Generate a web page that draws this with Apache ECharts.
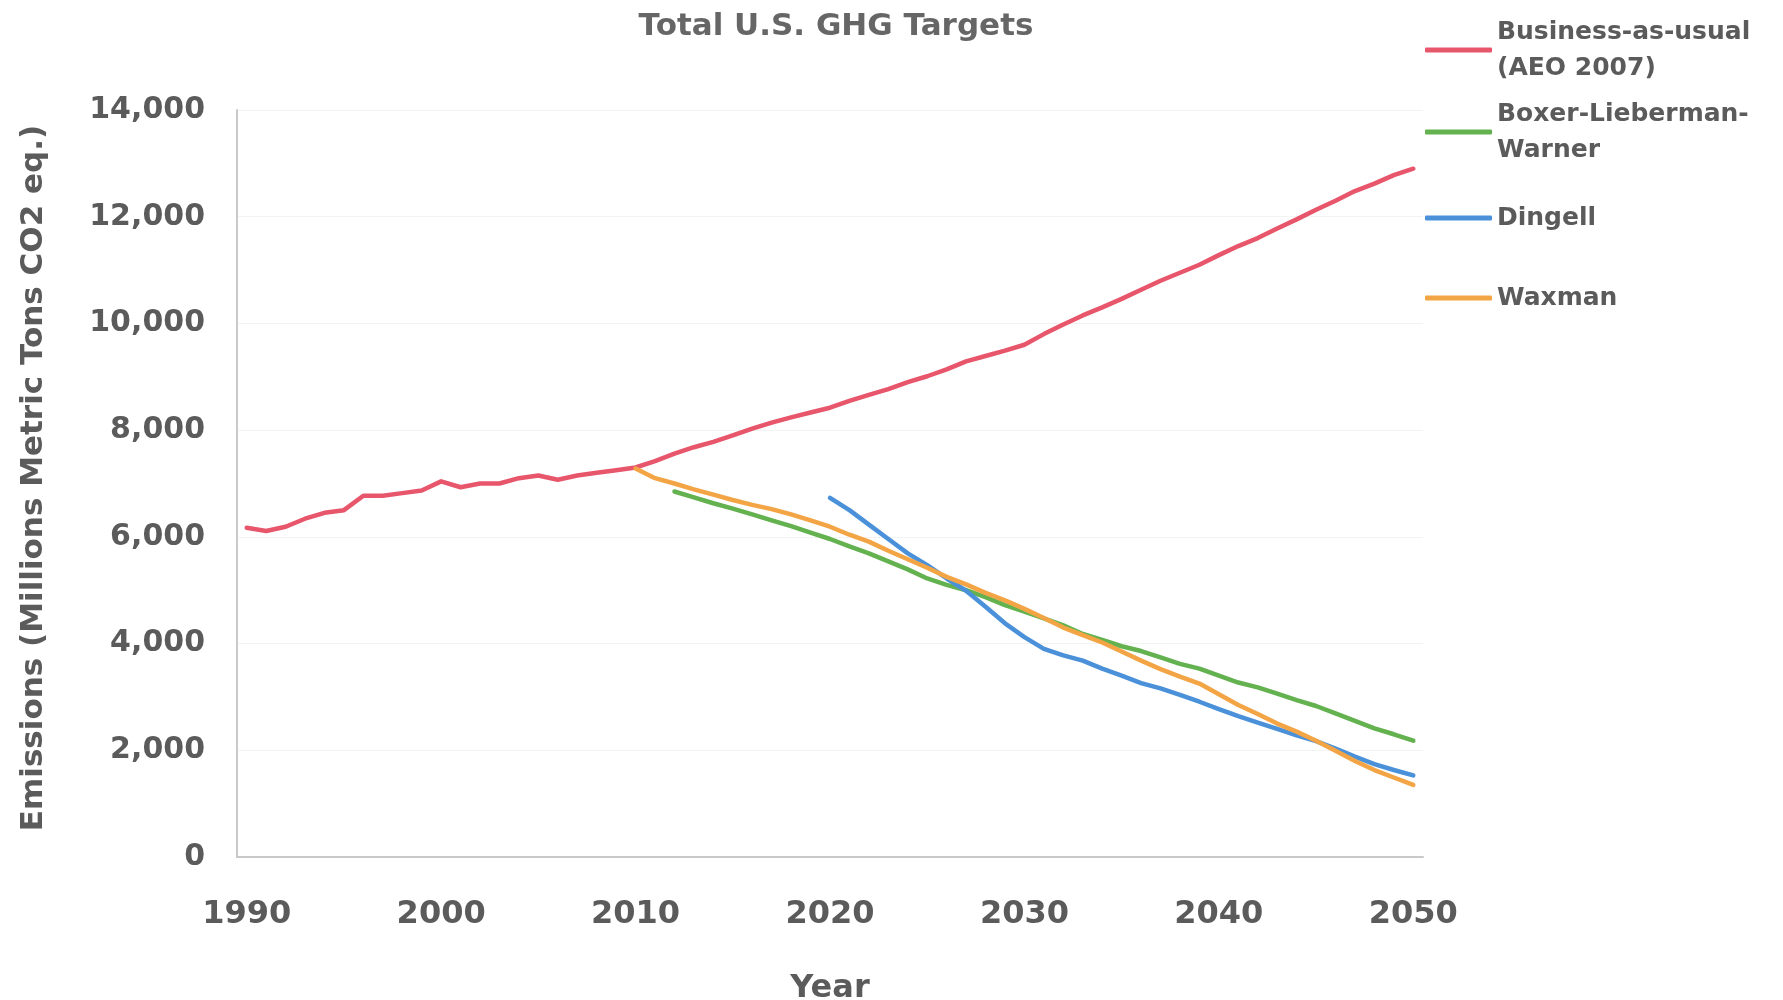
<!DOCTYPE html>
<html>
<head>
<meta charset="utf-8">
<script src="https://cdn.jsdelivr.net/npm/echarts@6/dist/echarts.min.js"></script>
<style>
html,body{margin:0;padding:0;background:#fff;}
#chart{width:1783px;height:1000px;}
</style>
</head>
<body>
<div id="chart"></div>
<script>
// ---- data ----
var years = [];
for (var y = 1990; y <= 2050; y++) years.push(String(y));

var bauName = 'Business-as-usual\n(AEO 2007)';
var blwName = 'Boxer-Lieberman-\nWarner';
var dingellName = 'Dingell';
var waxmanName = 'Waxman';

// Business-as-usual (AEO 2007), 1990-2050
var bauStart = 1990;
var bauValues = [6170, 6110, 6190, 6340, 6450, 6500, 6770, 6770, 6820, 6870,
  7040, 6930, 7000, 7000, 7100, 7150, 7070, 7150, 7200, 7250,
  7300, 7420, 7560, 7680, 7780, 7900, 8030, 8140, 8240, 8330,
  8420, 8550, 8660, 8770, 8900, 9010, 9140, 9290, 9390, 9490,
  9600, 9800, 9980, 10150, 10300, 10460, 10630, 10800, 10950, 11100,
  11280, 11450, 11600, 11780, 11950, 12130, 12300, 12480, 12620, 12780,
  12900];

// Boxer-Lieberman-Warner, 2012-2050
var blwStart = 2012;
var blwValues = [6850, 6740, 6630, 6530, 6420, 6310, 6200, 6080,
  5960, 5820, 5690, 5540, 5390, 5220, 5100, 5000, 4870, 4720,
  4600, 4470, 4340, 4180, 4070, 3950, 3860, 3740, 3620, 3530,
  3400, 3270, 3180, 3060, 2940, 2830, 2690, 2550, 2410, 2300,
  2180];

// Dingell, 2020-2050
var dingellStart = 2020;
var dingellValues = [6730, 6500, 6230, 5960, 5690, 5470, 5220, 4990, 4690, 4380,
  4120, 3900, 3780, 3680, 3530, 3400, 3260, 3160, 3040, 2910,
  2770, 2640, 2520, 2400, 2280, 2170, 2030, 1880, 1740, 1630,
  1530];

// Waxman, 2010-2050
var waxmanStart = 2010;
var waxmanValues = [7280, 7100, 7000, 6890, 6790, 6690, 6600, 6520, 6420, 6310,
  6190, 6040, 5910, 5740, 5580, 5420, 5250, 5110, 4950, 4810,
  4650, 4480, 4300, 4160, 4020, 3850, 3680, 3520, 3380, 3250,
  3050, 2850, 2680, 2500, 2350, 2180, 1990, 1800, 1630, 1490,
  1350];

var yTicks = [0, 2000, 4000, 6000, 8000, 10000, 12000, 14000];

// ---- helpers ----
function pad(start, values) {
  var out = [];
  for (var i = 0; i < years.length; i++) {
    var idx = (1990 + i) - start;
    out.push(idx >= 0 && idx < values.length ? values[idx] : null);
  }
  return out;
}

var FONT = '"DejaVu Sans", "Liberation Sans", Arial, sans-serif';
var TXT = '#5b5b5b';

var colors = {
  bau: '#e8566c',
  blw: '#63b24f',
  dingell: '#4a91da',
  waxman: '#f3a546'
};

function lineSeries(name, data, color) {
  return {
    name: name,
    type: 'line',
    data: data,
    symbol: 'none',
    connectNulls: false,
    lineStyle: { width: 4.5, color: color, cap: 'round', join: 'round' },
    itemStyle: { color: color },
    emphasis: { disabled: true },
    animation: false
  };
}

function legendFor(name, top, twoLine) {
  return {
    data: [{ name: name, icon: 'roundRect' }],
    left: 1425,
    top: top,
    padding: 0,
    itemWidth: 67,
    itemHeight: 5,
    selectedMode: false,
    textStyle: {
      fontFamily: FONT,
      fontWeight: 'bold',
      fontSize: 25,
      color: TXT,
      lineHeight: 36,
      padding: twoLine ? [36, 0, 0, 0] : 0
    }
  };
}

var chart = echarts.init(document.getElementById('chart'), null, { renderer: 'canvas' });

chart.setOption({
  backgroundColor: '#ffffff',
  animation: false,
  title: {
    text: 'Total U.S. GHG Targets',
    left: 831,
    textAlign: 'center',
    top: 6,
    textStyle: { fontFamily: FONT, fontWeight: 'bold', fontSize: 31, color: '#666666' }
  },
  legend: [
    legendFor(bauName, -4, true),
    legendFor(blwName, 78, true),
    legendFor(dingellName, 200, false),
    legendFor(waxmanName, 280, false)
  ],
  grid: { left: 237, right: 360, top: 110, bottom: 143, containLabel: false, outerBoundsMode: 'none' },
  xAxis: {
    type: 'category',
    data: years,
    boundaryGap: true,
    name: 'Year',
    nameLocation: 'middle',
    nameGap: 116,
    nameTextStyle: { fontFamily: FONT, fontWeight: 'bold', fontSize: 32, color: TXT },
    axisLine: { show: true, lineStyle: { color: '#c9c9c9', width: 2 } },
    axisTick: { show: false },
    axisLabel: {
      interval: 9,
      margin: 42,
      fontFamily: FONT,
      fontWeight: 'bold',
      fontSize: 32,
      color: TXT
    },
    splitLine: { show: false }
  },
  yAxis: {
    type: 'value',
    min: yTicks[0],
    max: yTicks[yTicks.length - 1],
    interval: 2000,
    name: 'Emissions (Millions Metric Tons CO2 eq.)',
    nameLocation: 'middle',
    nameGap: 188,
    nameTextStyle: { fontFamily: FONT, fontWeight: 'bold', fontSize: 31, color: TXT, padding: [0, 0, 0, 11] },
    axisLine: { show: true, lineStyle: { color: '#c9c9c9', width: 2 } },
    axisTick: { show: false },
    axisLabel: {
      margin: 32,
      fontFamily: FONT,
      fontWeight: 'bold',
      fontSize: 30,
      color: TXT,
      formatter: function (v) { return v.toLocaleString('en-US'); }
    },
    splitLine: { show: true, lineStyle: { color: '#f3f3f3', width: 1 } }
  },
  series: [
    lineSeries(bauName, pad(bauStart, bauValues), colors.bau),
    lineSeries(blwName, pad(blwStart, blwValues), colors.blw),
    lineSeries(dingellName, pad(dingellStart, dingellValues), colors.dingell),
    lineSeries(waxmanName, pad(waxmanStart, waxmanValues), colors.waxman)
  ]
});
</script>
</body>
</html>
